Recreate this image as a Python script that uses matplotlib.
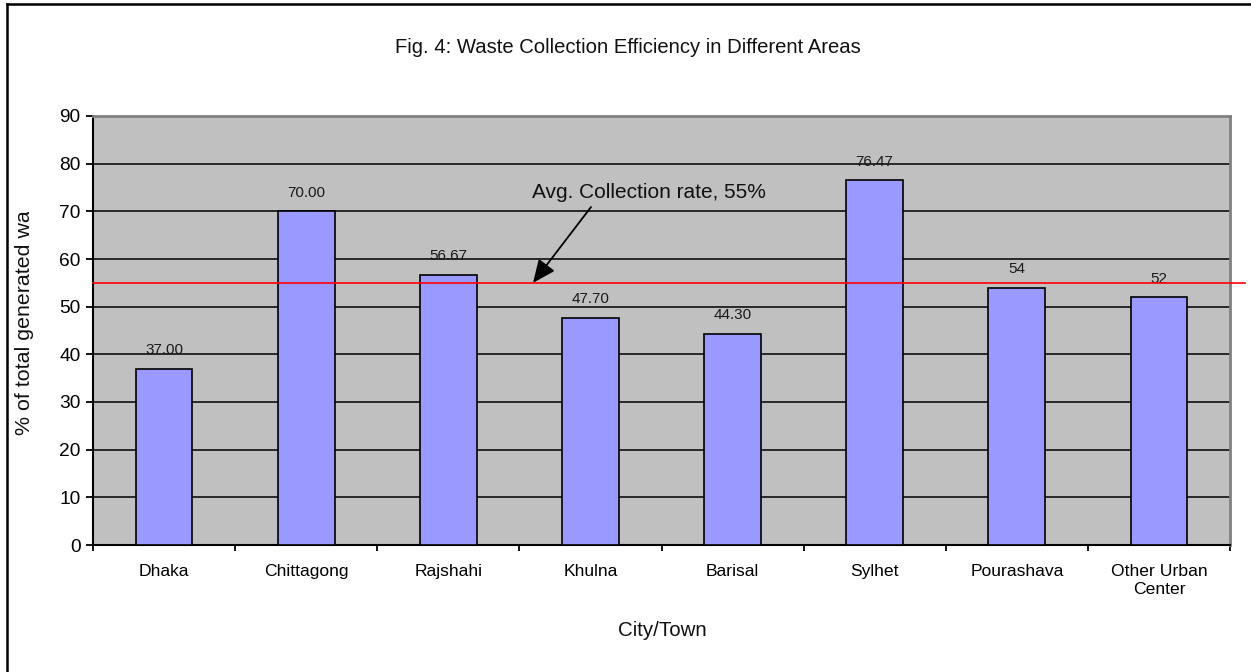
import matplotlib
matplotlib.use("Agg")
import matplotlib.pyplot as plt
from matplotlib.lines import Line2D
from matplotlib.transforms import Bbox, TransformedBbox

plt.rcParams['font.family'] = ['Liberation Sans', 'DejaVu Sans']

# ---- data ----
cities = ["Dhaka", "Chittagong", "Rajshahi", "Khulna", "Barisal", "Sylhet",
          "Pourashava", "Other Urban\nCenter"]
efficiency = [37.00, 70.00, 56.67, 47.70, 44.30, 76.47, 54, 52]
value_labels = ["37.00", "70.00", "56.67", "47.70", "44.30", "76.47", "54", "52"]
avg_rate = 55
avg_text = "Avg. Collection rate, 55%"
yticks = [0, 10, 20, 30, 40, 50, 60, 70, 80, 90]

W, H = 1251, 672
fig = plt.figure(figsize=(W / 100, H / 100), dpi=100)
fig.patch.set_facecolor('white')

ax = fig.add_axes([93 / W, 1 - 545 / H, (1230 - 93) / W, (545 - 116) / H])
ax.set_facecolor('#C0C0C0')

x = list(range(len(cities)))
ax.set_axisbelow(True)
ax.yaxis.grid(True, color='black', linewidth=1.1)
ax.bar(x, efficiency, width=0.4, color='#9999FF', edgecolor='black',
       linewidth=1.2, zorder=3)

for xi, v, lab in zip(x, efficiency, value_labels):
    ax.annotate(lab, xy=(xi, v), xytext=(0, 10.5), textcoords='offset points',
                ha='center', va='baseline', fontsize=11, color='#1a1a1a',
                zorder=2)

ax.set_xlim(-0.5, len(cities) - 0.5)
ax.set_ylim(0, 90)
ax.set_yticks(yticks)
ax.set_yticklabels([str(t) for t in yticks], fontsize=13.8)
ax.set_xticks([i - 0.5 for i in range(len(cities) + 1)], minor=False)
ax.set_xticklabels([])
ax.set_xticks(x, minor=True)
ax.set_xticklabels(cities, minor=True, fontsize=12.6)
ax.tick_params(axis='x', which='minor', length=0, pad=14)
ax.tick_params(axis='x', which='major', length=4, width=1.3, direction='out')
ax.tick_params(axis='y', length=5, width=1.3, direction='out', pad=4)

for s in ['left', 'bottom']:
    ax.spines[s].set_color('black')
    ax.spines[s].set_linewidth(1.5)
for s in ['top', 'right']:
    ax.spines[s].set_color('#808080')
    ax.spines[s].set_linewidth(2)

# average line extending slightly beyond the plot area
ax.axhline(avg_rate, xmin=0, xmax=(1245 - 93) / (1230 - 93), color='#FF0000',
           linewidth=1.2, clip_on=False, zorder=4)

# annotation arrow
ax.annotate('', xy=(2.596, avg_rate), xytext=(3.004, 70.9),
            arrowprops=dict(arrowstyle='-|>,head_length=0.5,head_width=0.22',
                            color='black', lw=1.3, mutation_scale=28,
                            shrinkA=0, shrinkB=0), zorder=5)
ax.text(3.412, 72.8, avg_text, ha='center', va='baseline', fontsize=15,
        color='#111111', zorder=5)

# titles
fig.text(628 / W, 1 - 53 / H,
         "Fig. 4: Waste Collection Efficiency in Different Areas",
         ha='center', va='baseline', fontsize=14.6, color='#111111')
fig.text(662 / W, 1 - 636 / H, "City/Town", ha='center', va='baseline',
         fontsize=14.8, color='#111111')
yl = fig.text(25 / W, 1 - 435 / H, "% of total generated waste", rotation=90,
              ha='center', va='bottom', fontsize=15.4, color='#111111')
yl.set_clip_box(TransformedBbox(Bbox.from_extents(0, 0, 1, (H - 212) / H),
                                fig.transFigure))
yl.set_clip_on(True)

# chart area border (top and left visible)
fig.add_artist(Line2D([7 / W, 1], [1 - 4 / H, 1 - 4 / H],
                      transform=fig.transFigure, color='black', linewidth=1.8))
fig.add_artist(Line2D([7 / W, 7 / W], [0, 1 - 4 / H],
                      transform=fig.transFigure, color='black', linewidth=1.8))

fig.savefig("out.png", dpi=100)
